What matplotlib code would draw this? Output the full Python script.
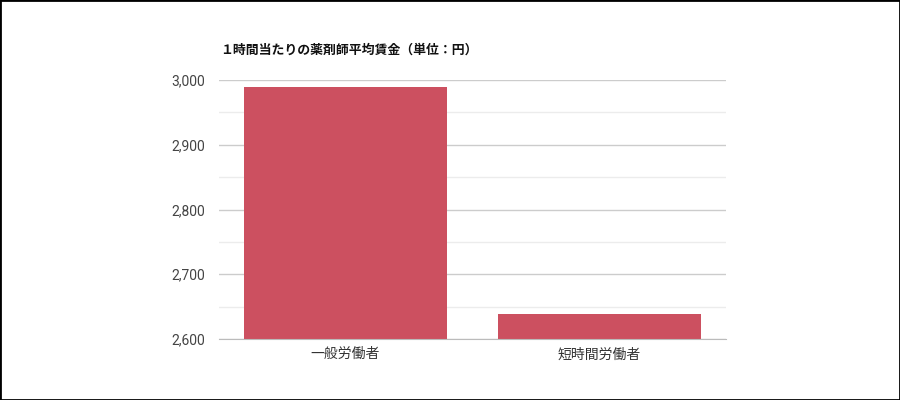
import matplotlib
matplotlib.use("Agg")
import matplotlib.pyplot as plt
from matplotlib.patches import Rectangle
from matplotlib.ticker import MultipleLocator, FuncFormatter

# Data
TITLE = "１時間当たりの薬剤師平均賃金（単位：円）"
categories = ["一般労働者", "短時間労働者"]
wages = [2989, 2638]
y_ticks = [2600, 2700, 2800, 2900, 3000]

BAR_COLOR = "#cc5060"
JP_FONT = ["Noto Sans CJK JP", "DejaVu Sans"]

fig = plt.figure(figsize=(9, 4), dpi=100, facecolor="white")
ax = fig.add_axes([0.2428, 0.1525, 0.5644, 0.6475])

x = range(len(categories))
ax.bar(x, wages, width=0.8, color=BAR_COLOR, zorder=3)

ax.set_xlim(-0.5, len(categories) - 0.5)
ax.set_ylim(y_ticks[0], y_ticks[-1])
ax.set_yticks(y_ticks)
ax.yaxis.set_minor_locator(MultipleLocator(50))
ax.yaxis.set_major_formatter(FuncFormatter(lambda v, p: f"{int(v):,}"))

ax.grid(axis="y", which="major", color="#cccccc", linewidth=1, zorder=0)
ax.grid(axis="y", which="minor", color="#ececec", linewidth=1, zorder=0)
ax.grid(axis="x", visible=False)

for s in ["top", "right", "left"]:
    ax.spines[s].set_visible(False)
ax.spines["bottom"].set_color("#bbbbbb")
ax.spines["bottom"].set_zorder(4)

ax.tick_params(axis="both", which="both", length=0)
ax.tick_params(axis="y", pad=10, labelsize=10, labelcolor="#444444")
ax.tick_params(axis="x", pad=6, labelsize=10, labelcolor="#333333")
for lbl in ax.get_yticklabels():
    lbl.set_family(["Roboto", "DejaVu Sans"])
ax.set_xticks(list(x))
ax.set_xticklabels(categories, family=JP_FONT)

fig.text(220 / 900, 1 - 50 / 400, TITLE, family=JP_FONT, fontsize=9.3,
         fontweight="bold", color="#111111", ha="left", va="center")

# outer frame
fig.patches.append(Rectangle((0, 0), 1, 1, transform=fig.transFigure,
                             fill=False, edgecolor="black", linewidth=2))

fig.savefig("out.png", dpi=100, facecolor="white")
